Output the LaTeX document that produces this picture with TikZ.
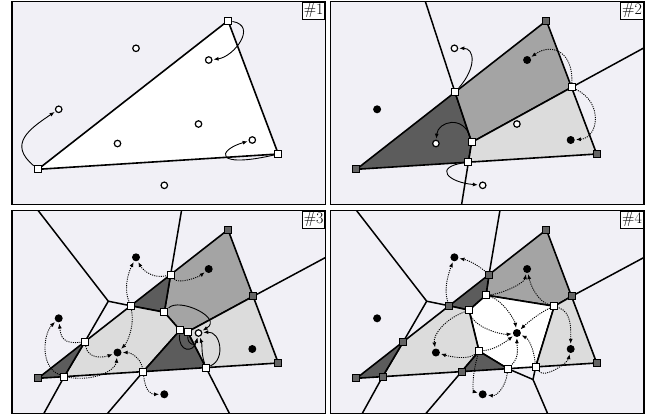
\documentclass[tikz,border=0pt]{standalone}
\usetikzlibrary{arrows.meta, calc}
\pgfdeclarelayer{back}
\pgfsetlayers{back,main}
\definecolor{Canvas}{HTML}{F1F0F6}
\definecolor{Light}{HTML}{DCDCDC}
\definecolor{Mid}{HTML}{A4A4A4}
\definecolor{Dark}{HTML}{5C5C5C}
\definecolor{Fixed}{HTML}{646464}

\begin{document}
\begin{tikzpicture}[
  x=1pt, y=-1pt,
  mesh/.style={
    draw=black,
    line width=1.6pt,
    line join=round
  },
  cut/.style={
    draw=black,
    line width=1.5pt
  },
  vnew/.style={
    rectangle,
    draw=black,
    fill=white,
    line width=0.9pt,
    minimum size=7pt,
    inner sep=0pt
  },
  vfix/.style={vnew, fill=Fixed},
  site/.style={
    circle,
    draw=black,
    fill=white,
    line width=1.2pt,
    minimum size=6.5pt,
    inner sep=0pt
  },
  hit/.style={
    circle,
    fill=black,
    minimum size=8pt,
    inner sep=0pt
  },
  push/.style={
    -{Latex[length=5pt,width=4pt]},
    line width=0.9pt,
    shorten >=1pt,
    shorten <=0.5pt
  },
  pull/.style={push, dash pattern=on 1.1pt off 1.1pt},
  panel/.style={draw=black, line width=1.8pt},
  tag/.style={
    draw=black,
    fill=white,
    line width=1.1pt,
    inner sep=1.5pt,
    anchor=north east,
    font=\fontsize{16}{16}\selectfont
  }
]

\useasboundingbox (0,0) rectangle (655,416);
\begin{pgfonlayer}{back}
  \fill[white] (0,0) rectangle (655,416);
\end{pgfonlayer}

% #1
\begin{scope}
  \node[vnew] (A) at (38,169.3) {};
  \node[vnew] (B) at (228,20.7) {};
  \node[vnew] (C) at (278.3,154) {};
  \node[site] (s1) at (136,48.3) {};
  \node[site] (s2) at (208.7,60) {};
  \node[site] (s3) at (58.7,109.3) {};
  \node[site] (s4) at (198.5,124) {};
  \node[site] (s5) at (117.5,143.5) {};
  \node[site] (s6) at (252.3,140) {};
  \node[site] (s7) at (164.3,185.3) {};
  \begin{pgfonlayer}{back}
    \begin{scope}
      \clip (12,1.5) rectangle (325.5,204.5);
      \fill[Canvas] (12,1.5) rectangle (325.5,204.5);
      \filldraw[mesh, fill=white] (A.center) -- (B.center) -- (C.center) -- cycle;
    \end{scope}
  \end{pgfonlayer}
  \draw[panel] (12,1.5) rectangle (325.5,204.5);
  \node[tag] (t1) at (325.5,1.5) {\#1};
  \draw[push] (A) .. controls +(-30,-25) and +(-30,20) .. (s3);
  \draw[push] (B) .. controls +(30,5) and +(25,-3) .. (s2);
  \draw[push] (C) .. controls +(-65,15) and +(-35,10) .. (s6);
\end{scope}

% #2
\begin{scope}[shift={(318.4,0)}]
  \node[vfix] (A) at (38,169.3) {};
  \node[vfix] (B) at (228,20.7) {};
  \node[vfix] (C) at (278.3,154) {};
  \node[vnew] (P1) at ($(A)!0.519!(B)$) {};
  \node[vnew] (P2) at (153.3,142.3) {};
  \node[vnew] (P3) at ($(A)!0.466!(C)$) {};
  \node[vnew] (P4) at ($(B)!0.5!(C)$) {};
  \node[site] (s1) at (136,48.3) {};
  \node[hit] (s2) at (208.7,60) {};
  \node[hit] (s3) at (58.7,109.3) {};
  \node[site] (s4) at (198.5,124) {};
  \node[site] (s5) at (117.5,143.5) {};
  \node[hit] (s6) at (252.3,140) {};
  \node[site] (s7) at (164.3,185.3) {};
  \coordinate (e1) at (104.5,-6);
  \coordinate (e2) at (335,42.7);
  \coordinate (e3) at (142,212);
  \begin{pgfonlayer}{back}
    \begin{scope}
      \clip (12,1.5) rectangle (325.5,204.5);
      \fill[Canvas] (12,1.5) rectangle (325.5,204.5);
      \filldraw[mesh, fill=Dark] (A.center) -- (P1.center) -- (P2.center) -- (P3.center) -- cycle;
      \filldraw[mesh, fill=Mid] (P1.center) -- (B.center) -- (P4.center) -- (P2.center) -- cycle;
      \filldraw[mesh, fill=Light] (P2.center) -- (P4.center) -- (C.center) -- (P3.center) -- cycle;
      \draw[cut] (P1.center) -- (e1);
      \draw[cut] (P4.center) -- (e2);
      \draw[cut] (P3.center) -- (e3);
    \end{scope}
  \end{pgfonlayer}
  \draw[panel] (12,1.5) rectangle (325.5,204.5);
  \node[tag] (t2) at (325.5,1.5) {\#2};
  \draw[push] (P1) .. controls +(22,-25) and +(20,0) .. (s1);
  \draw[push] (P2) .. controls +(-8,-28) and +(2,-22) .. (s5);
  \draw[push] (P3) .. controls +(-35,5) and +(-35,-3) .. (s7);
  \draw[pull] (P4) .. controls +(2,-35) and +(25,-18) .. (s2);
  \draw[pull] (P4) .. controls +(32,15) and +(28,-2) .. (s6);
\end{scope}

% #3
\begin{scope}[shift={(0,209)}]
  \node[vfix] (A) at (38,169.3) {};
  \node[vfix] (B) at (228,20.7) {};
  \node[vfix] (C) at (278.3,154) {};
  \node[vfix] (D) at ($(B)!0.5!(C)$) {};
  \node[vnew] (q1) at ($(A)!0.698!(B)$) {};
  \node[vnew] (q2) at ($(A)!0.488!(B)$) {};
  \node[vnew] (q3) at (164.3,103.2) {};
  \node[vnew] (q4) at (180,121.2) {};
  \node[vnew] (q5) at (187.7,122.8) {};
  \node[vnew] (q6) at ($(A)!0.247!(B)$) {};
  \node[vnew] (q7) at ($(A)!0.109!(C)$) {};
  \node[vnew] (q8) at ($(A)!0.438!(C)$) {};
  \node[vnew] (q9) at ($(A)!0.699!(C)$) {};
  \node[hit] (s1) at (136,48.3) {};
  \node[hit] (s2) at (208.7,60) {};
  \node[hit] (s3) at (58.7,109.3) {};
  \node[site] (s4) at (198.5,124) {};
  \node[hit] (s5) at (117.5,143.5) {};
  \node[hit] (s6) at (252.3,140) {};
  \node[hit] (s7) at (164.3,185.3) {};
  \coordinate (J) at (108.3,92.2);
  \coordinate (e1) at (32.3,-6);
  \coordinate (e2) at (182.8,-6);
  \coordinate (e3) at (335,43.4);
  \coordinate (e4) at (39.7,212);
  \coordinate (e5) at (101.1,212);
  \coordinate (e6) at (233.3,212);
  \begin{pgfonlayer}{back}
    \begin{scope}
      \clip (12,1.5) rectangle (325.5,204.5);
      \fill[Canvas] (12,1.5) rectangle (325.5,204.5);
      \filldraw[mesh, fill=Mid] (q1.center) -- (B.center) -- (D.center) -- (q5.center) -- (q4.center) -- (q3.center) -- cycle;
      \filldraw[mesh, fill=Dark] (q2.center) -- (q1.center) -- (q3.center) -- cycle;
      \filldraw[mesh, fill=Light] (q6.center) -- (q2.center) -- (q3.center) -- (q4.center) -- (q8.center) -- (q7.center) -- cycle;
      \filldraw[mesh, fill=Dark] (q4.center) -- (q5.center) -- (q9.center) -- (q8.center) -- cycle;
      \filldraw[mesh, fill=Light] (q5.center) -- (D.center) -- (C.center) -- (q9.center) -- cycle;
      \filldraw[mesh, fill=Dark] (A.center) -- (q6.center) -- (q7.center) -- cycle;
      \draw[cut] (e1) -- (J) -- (q2.center);
      \draw[cut] (J) -- (q6.center);
      \draw[cut] (q1.center) -- (e2);
      \draw[cut] (D.center) -- (e3);
      \draw[cut] (q7.center) -- (e4);
      \draw[cut] (q8.center) -- (e5);
      \draw[cut] (q9.center) -- (e6);
    \end{scope}
  \end{pgfonlayer}
  \draw[panel] (12,1.5) rectangle (325.5,204.5);
  \node[tag] (t3) at (325.5,1.5) {\#3};
  \draw[pull] (q1) .. controls +(-20,5) and +(5,10) .. (s1);
  \draw[pull] (q2) .. controls +(-8,-20) and +(-6,12) .. (s1);
  \draw[pull] (q1) .. controls +(8,10) and +(-10,8) .. (s2);
  \draw[pull] (q6) .. controls +(-22,3) and +(2,18) .. (s3);
  \draw[pull] (q7) .. controls +(-25,-10) and +(-15,15) .. (s3);
  \draw[pull] (q6) .. controls +(3,18) and +(-14,5) .. (s5);
  \draw[pull] (q7) .. controls +(30,5) and +(-2,18) .. (s5);
  \draw[pull] (q2) .. controls +(4,22) and +(9,-9) .. (s5);
  \draw[pull] (q8) .. controls +(-3,-14) and +(13,0) .. (s5);
  \draw[pull] (q8) .. controls +(2,20) and +(-13,0) .. (s7);
  \draw[push] (q3) .. controls +(15,-15) and +(25,-15) .. (s4);
  \draw[push] (q4) .. controls +(-2,22) and +(-5,20) .. (s4);
  \draw[push] (q5) .. controls +(0,14) and +(-3,13) .. (s4);
  \draw[push] (q9) .. controls +(20,-8) and +(22,-2) .. (s4);
  \draw[push] (q9) .. controls +(-5,-15) and +(4,12) .. (s4);
\end{scope}

% #4
\begin{scope}[shift={(318.4,209)}]
  \node[vfix] (A) at (38,169.3) {};
  \node[vfix] (B) at (228,20.7) {};
  \node[vfix] (C) at (278.3,154) {};
  \node[vfix] (D) at ($(B)!0.5!(C)$) {};
  \node[vfix] (r1) at ($(A)!0.698!(B)$) {};
  \node[vfix] (r2) at ($(A)!0.488!(B)$) {};
  \node[vfix] (r3) at ($(A)!0.247!(B)$) {};
  \node[vfix] (r4) at ($(A)!0.109!(C)$) {};
  \node[vfix] (r5) at ($(A)!0.438!(C)$) {};
  \node[vnew] (w1) at (167.6,86.2) {};
  \node[vnew] (w2) at (150.6,101.2) {};
  \node[vnew] (w3) at (160.6,142.2) {};
  \node[vnew] (w4) at ($(A)!0.63!(C)$) {};
  \node[vnew] (w5) at ($(A)!0.746!(C)$) {};
  \node[vnew] (w6) at (235.9,97.2) {};
  \node[hit] (s1) at (136,48.3) {};
  \node[hit] (s2) at (208.7,60) {};
  \node[hit] (s3) at (58.7,109.3) {};
  \node[hit] (s4) at (198.5,124) {};
  \node[hit] (s5) at (117.5,143.5) {};
  \node[hit] (s6) at (252.3,140) {};
  \node[hit] (s7) at (164.3,185.3) {};
  \coordinate (J) at (108.3,92.2);
  \coordinate (K) at (214.6,170.5);
  \coordinate (e1) at (32.3,-6);
  \coordinate (e2) at (182.8,-6);
  \coordinate (e3) at (335,43.4);
  \coordinate (e4) at (39.7,212);
  \coordinate (e5) at (101.1,212);
  \coordinate (e6) at (232.4,212);
  \begin{pgfonlayer}{back}
    \begin{scope}
      \clip (12,1.5) rectangle (325.5,204.5);
      \fill[Canvas] (12,1.5) rectangle (325.5,204.5);
      \filldraw[mesh, fill=Mid] (r1.center) -- (B.center) -- (D.center) -- (w6.center) -- (w1.center) -- cycle;
      \filldraw[mesh, fill=Dark] (r2.center) -- (r1.center) -- (w1.center) -- (w2.center) -- cycle;
      \filldraw[mesh, fill=white] (w1.center) -- (w6.center) -- (w5.center) -- (w4.center) -- (w3.center) -- (w2.center) -- cycle;
      \filldraw[mesh, fill=Light] (r3.center) -- (r2.center) -- (w2.center) -- (w3.center) -- (r5.center) -- (r4.center) -- cycle;
      \filldraw[mesh, fill=Dark] (r5.center) -- (w3.center) -- (w4.center) -- cycle;
      \filldraw[mesh, fill=Light] (w6.center) -- (D.center) -- (C.center) -- (w5.center) -- cycle;
      \filldraw[mesh, fill=Dark] (A.center) -- (r3.center) -- (r4.center) -- cycle;
      \draw[cut] (e1) -- (J) -- (r2.center);
      \draw[cut] (J) -- (r3.center);
      \draw[cut] (r1.center) -- (e2);
      \draw[cut] (D.center) -- (e3);
      \draw[cut] (r4.center) -- (e4);
      \draw[cut] (r5.center) -- (e5);
      \draw[cut] (w4.center) -- (K) -- (w5.center);
      \draw[cut] (K) -- (e6);
    \end{scope}
  \end{pgfonlayer}
  \draw[panel] (12,1.5) rectangle (325.5,204.5);
  \node[tag] (t4) at (325.5,1.5) {\#4};
  \draw[pull] (r2) .. controls +(-6,-18) and +(-5,14) .. (s1);
  \draw[pull] (r1) .. controls +(-12,-10) and +(14,3) .. (s1);
  \draw[pull] (w1) .. controls +(18,-2) and +(-3,14) .. (s2);
  \draw[pull] (w6) .. controls +(-18,-5) and +(3,14) .. (s2);
  \draw[pull] (w1) .. controls +(18,6) and +(-2,-12) .. (s4);
  \draw[pull] (w2) .. controls +(6,18) and +(-14,2) .. (s4);
  \draw[pull] (w6) .. controls +(-14,6) and +(9,-9) .. (s4);
  \draw[pull] (w3) .. controls +(18,-2) and +(-9,7) .. (s4);
  \draw[pull] (w4) .. controls +(12,-12) and +(0,14) .. (s4);
  \draw[pull] (w5) .. controls +(-2,-18) and +(12,6) .. (s4);
  \draw[pull] (w2) .. controls +(-24,9) and +(-3,-18) .. (s5);
  \draw[pull] (w3) .. controls +(-12,9) and +(14,4) .. (s5);
  \draw[pull] (w6) .. controls +(18,6) and +(0,-18) .. (s6);
  \draw[pull] (w5) .. controls +(9,12) and +(-3,14) .. (s6);
  \draw[pull] (w3) .. controls +(-7,24) and +(-10,-3) .. (s7);
  \draw[pull] (w4) .. controls +(-2,18) and +(14,2) .. (s7);
\end{scope}

\end{tikzpicture}
\end{document}
